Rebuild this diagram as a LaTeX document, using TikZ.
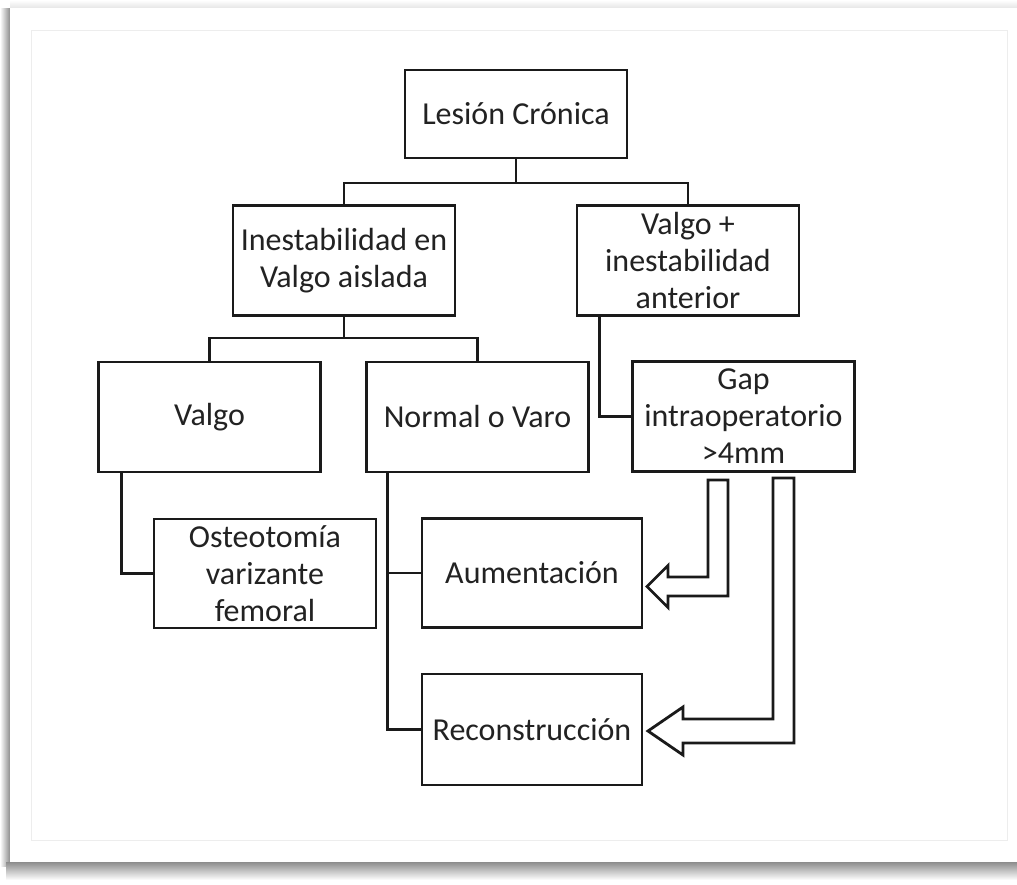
\documentclass[tikz,border=0pt]{standalone}
\usepackage{fontspec}
\setmainfont{Carlito}
\usetikzlibrary{positioning}
\definecolor{boxline}{HTML}{1A1A1A}
\definecolor{boxtext}{HTML}{222222}
\definecolor{framegray}{HTML}{EDEDED}

\begin{document}
\begin{tikzpicture}[
  x=0.5pt, y=-0.5pt,
  line width=1.4pt,
  flowbox/.style={rectangle, draw=boxline, fill=white, minimum width=111pt, minimum height=55pt, inner sep=1pt, align=center, text=boxtext, font=\fontsize{16}{18.5}\selectfont},
  flowline/.style={draw=boxline, line width=1.4pt},
  hollowarrow/.style={draw=boxline, fill=white, line width=1.4pt, line join=miter}
]
  \useasboundingbox (0,0) rectangle (1017,884);
  \fill[white] (0,0) rectangle (1017,884);
  \shade[top color=white, bottom color=black!10] (10,0) rectangle (1017,8);
  \shade[left color=white, right color=black!45] (0,8) rectangle (10,866);
  \shade[top color=black!45, bottom color=white] (6,862) rectangle (1017,880);
  \fill[white] (10,8) rectangle (1017,862);
  \draw[framegray, line width=0.5pt] (31,30) rectangle (1007,840);

  \node[flowbox, minimum height=44pt] (lesion) at (516,114) {Lesión Crónica};
  \node[flowbox] (inest) at (344,260.5) {Inestabilidad en\\Valgo aislada};
  \node[flowbox] (valgoant) at (688,260.5) {Valgo +\\inestabilidad\\anterior};
  \node[flowbox] (valgo) at (209.5,417) {Valgo};
  \node[flowbox] (normal) at (477.5,417) {Normal o Varo};
  \node[flowbox] (gap) at (743.5,416.5) {Gap\\intraoperatorio\\>4mm};
  \node[flowbox, minimum height=54.5pt] (osteo) at (265,573.5) {Osteotomía\\varizante\\femoral};
  \node[flowbox, minimum width=110pt, minimum height=54.5pt] (aument) at (532,573) {Aumentación};
  \node[flowbox, minimum width=110pt, minimum height=55.5pt] (recon) at (532,729.5) {Reconstrucción};

  \coordinate (split1) at (516,183);
  \draw[flowline] (lesion.south) -- (split1);
  \draw[flowline] (inest.north) |- (split1) -| (valgoant.north);

  \coordinate (split2) at (344,338);
  \draw[flowline] (inest.south) -- (split2);
  \draw[flowline] (valgo.north) |- (split2) -| (normal.north);

  \draw[flowline] ([xshift=12pt]valgoant.south west) |- (gap.west);
  \draw[flowline] ([xshift=12pt]valgo.south west) |- (osteo.west);
  \coordinate (trunk) at ([xshift=11pt]normal.south west);
  \draw[flowline] (trunk) |- (recon.west);
  \draw[flowline] (trunk |- aument.west) -- (aument.west);

  \draw[hollowarrow] (708,480) -- (728,480) -- (728,596) -- (668,596) -- (668,607.5) -- (647,586.5) -- (668,565.5) -- (668,577) -- (708,577) -- cycle;
  \draw[hollowarrow] (773,478) -- (794,478) -- (794,743) -- (683,743) -- (683,755) -- (648,731) -- (683,707) -- (683,719) -- (773,719) -- cycle;
\end{tikzpicture}
\end{document}
